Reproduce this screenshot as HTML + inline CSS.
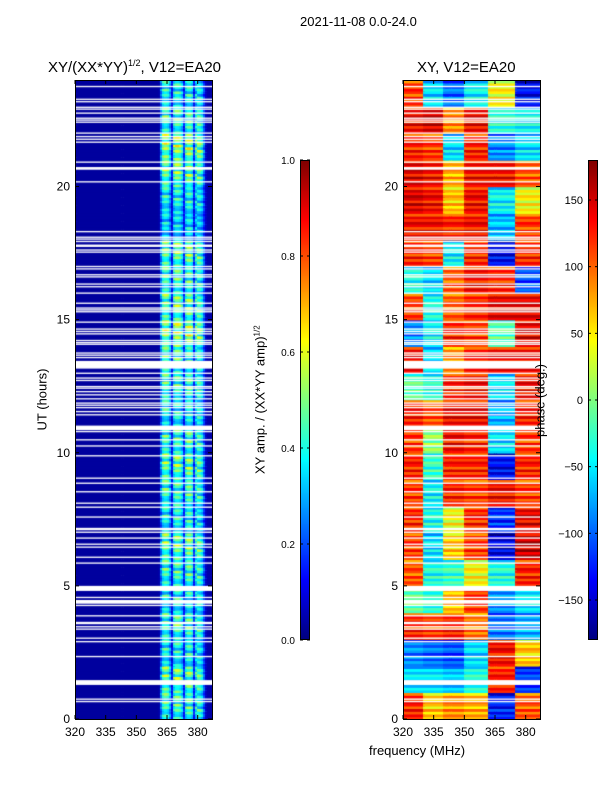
<!DOCTYPE html>
<html><head><meta charset="utf-8"><style>
body{margin:0;background:#fff;width:600px;height:800px;position:relative;overflow:hidden;font-family:"Liberation Sans",sans-serif;}
.t{position:absolute;font-size:12px;color:#000;white-space:nowrap;}
canvas{position:absolute;}
</style></head><body>
<div class="t" style="left:300px;top:14px;font-size:13px;">2021-11-08 0.0-24.0</div>
<div class="t" style="left:48px;top:58px;font-size:15px;">XY/(XX*YY)<sup style="font-size:9px">1/2</sup>, V12=EA20</div>
<div class="t" style="left:417px;top:59px;font-size:15px;">XY, V12=EA20</div>
<div class="t" style="left:8px;top:392px;font-size:13px;transform:rotate(-90deg);transform-origin:center;width:68px;text-align:center;">UT (hours)</div>
<div class="t" style="left:369px;top:743px;font-size:13px;">frequency (MHz)</div>
<div class="t" style="left:180px;top:392px;font-size:13px;transform:rotate(-90deg);width:160px;text-align:center;">XY amp. / (XX*YY amp)<sup style="font-size:8px">1/2</sup></div>
<canvas id="amp" width="137" height="639" style="left:75px;top:80px"></canvas>
<canvas id="ph" width="137" height="639" style="left:403px;top:80px"></canvas>
<canvas id="cb1" width="10" height="480" style="left:300px;top:160px"></canvas>
<canvas id="cb2" width="10" height="480" style="left:588px;top:160px"></canvas>
<svg id="ov" width="600" height="800" style="position:absolute;left:0;top:0"></svg>
<div class="t" style="left:490px;top:393px;font-size:13px;transform:rotate(-90deg);width:100px;text-align:center;">phase (deg.)</div>
<script>
const hours=[0,5,10,15,20];
const freqTicks=[320,335,350,365,380];
const ampTicks=[0.0,0.2,0.4,0.6,0.8,1.0];
const phaseTicks=[-150,-100,-50,0,50,100,150];
const chanStart=320;
const ampProfile=[0.03,0.03,0.03,0.03,0.03,0.03,0.03,0.03,0.03,0.03,0.03,0.03,0.03,0.03,0.03,0.03,0.03,0.03,0.03,0.03,0.03,0.03,0.03,0.03,0.03,0.03,0.03,0.03,0.03,0.03,0.03,0.03,0.03,0.03,0.03,0.03,0.03,0.03,0.03,0.03,0.03,0.04,0.25,0.42,0.45,0.42,0.3,0.12,0.4,0.45,0.45,0.42,0.35,0.15,0.4,0.45,0.45,0.4,0.15,0.38,0.42,0.4,0.35,0.2,0.06,0.04,0.04];
const hourGain=[1.0,1.1,0.9,1.0,0.9,1.0,1.1,0.9,1.0,1.1,1.0,0.9,1.0,1.0,1.2,1.1,1.0,1.1,0.8,0.9,1.1,1.2,1.0,0.9];
const rowPattern=[0.8,1.1,0.9,1.25,0.7,1.0,1.2,0.85,1.05,0.75];
const segEdges=[320,330,340,350,362,375,387];
const phaseGrid=[
[120,60,80,70,-130,100],[-60,-60,-70,-40,120,-120],[-90,-100,-110,-60,130,60],[120,110,120,90,-100,-80],
[-20,-40,60,110,-90,-60],[100,-40,-30,40,-40,120],[110,-60,60,110,-150,150],[120,-40,40,120,-120,140],
[110,-50,120,110,130,110],[120,-30,120,120,-140,120],[110,0,130,120,-60,110],[120,100,130,130,-80,120],
[-20,-40,120,130,-60,130],[130,-60,80,120,130,130],[-90,-50,120,110,-20,140],[110,-40,100,120,140,140],
[-40,-60,100,130,120,-110],[120,110,-50,120,-140,120],[130,130,120,130,-70,110],[140,130,60,130,-50,40],
[140,130,70,130,130,100],[120,110,-60,120,-90,-60],[130,140,80,130,-40,-50],[110,-60,-100,-50,40,-140]];
const phaseRowJitter=[0,20,-15,30,-25,10,25,-10,15,-30];
const flagStart=[23.73,23.25,23.16,22.95,22.88,22.73,22.54,22.47,22.39,21.98,21.85,21.75,21.64,20.89,20.63,20.15,18.28,18.07,18.0,17.91,17.73,17.59,17.51,16.97,16.88,16.66,16.58,16.31,16.21,15.97,15.59,15.41,15.34,15.27,14.88,14.62,14.53,14.44,14.19,14.11,14.05,13.72,13.64,13.55,13.16,12.96,12.78,12.69,12.46,12.4,12.27,12.15,12.0,11.84,11.76,11.67,11.52,11.4,10.85,10.77,10.46,10.23,9.86,9.02,8.83,8.51,8.08,7.93,7.56,7.09,6.99,6.77,6.54,6.43,6.05,5.83,4.81,4.54,4.33,4.24,3.85,3.56,3.44,3.35,3.01,2.88,2.32,1.28,0.72,0.63];
const flagEnd=[23.78,23.3,23.21,23.0,22.93,22.78,22.59,22.52,22.44,22.03,21.9,21.8,21.69,20.94,20.73,20.2,18.33,18.12,18.05,17.96,17.82,17.64,17.56,17.02,16.93,16.71,16.63,16.36,16.26,16.02,15.64,15.46,15.39,15.32,14.93,14.67,14.58,14.49,14.24,14.16,14.1,13.77,13.69,13.6,13.45,13.01,12.83,12.74,12.51,12.45,12.32,12.2,12.05,11.89,11.81,11.72,11.57,11.45,11.02,10.82,10.51,10.28,9.91,9.07,8.88,8.56,8.13,7.98,7.61,7.18,7.04,6.82,6.59,6.48,6.1,5.88,5.0,4.59,4.47,4.29,3.9,3.65,3.49,3.4,3.06,2.93,2.37,1.46,0.77,0.68];

const W=137,H=639,FMIN=320,FMAX=387,TMAX=24;
const xs=f=>(f-FMIN)/(FMAX-FMIN)*W;
const ys=t=>H-t/TMAX*H;
function jet(v){v=Math.max(0,Math.min(1,v));const c=x=>Math.round(255*Math.max(0,Math.min(1,1.5-Math.abs(x))));return `rgb(${c(4*v-3)},${c(4*v-2)},${c(4*v-1)})`;}
function seg(f){for(let i=0;i<segEdges.length-1;i++)if(f<segEdges[i+1])return i;return segEdges.length-2;}
const ca=document.getElementById('amp').getContext('2d');
const cp=document.getElementById('ph').getContext('2d');
const nRows=TMAX*rowPattern.length;
for(let r=0;r<nRows;r++){
  const t0=r/rowPattern.length,t1=(r+1)/rowPattern.length,h=Math.floor(t0),k=r%rowPattern.length;
  const y0=ys(t1),hh=ys(t0)-y0;
  for(let c=0;c<ampProfile.length;c++){
    const f=chanStart+c,x0=xs(f),ww=xs(f+1)-x0;
    const base=ampProfile[c];
    const a=base>0.1?base*hourGain[h]*rowPattern[(k+Math.floor(c/6))%rowPattern.length]:base;
    ca.fillStyle=jet(a);ca.fillRect(Math.floor(x0),y0,Math.ceil(ww)+1,hh+0.6);
    let p=phaseGrid[h][seg(f)]+phaseRowJitter[k];
    if(p>180)p-=360;if(p<-180)p+=360;
    cp.fillStyle=jet((p+180)/360);cp.fillRect(Math.floor(x0),y0,Math.ceil(ww)+1,hh+0.6);
  }
}
for(let i=0;i<flagStart.length;i++){
  const y0=ys(flagEnd[i]),hh=Math.max(1.2,ys(flagStart[i])-y0);
  ca.fillStyle='#fff';ca.fillRect(0,y0,W,hh);
  cp.fillStyle='#fff';cp.fillRect(0,y0,W,hh);
}
for(const id of ['cb1','cb2']){const g=document.getElementById(id).getContext('2d');for(let y=0;y<480;y++){g.fillStyle=jet(1-y/479);g.fillRect(0,y,10,1);}}
const NS='http://www.w3.org/2000/svg',ov=document.getElementById('ov');
function el(tag,at,txt){const e=document.createElementNS(NS,tag);for(const k in at)e.setAttribute(k,at[k]);if(txt!==undefined)e.textContent=txt;ov.appendChild(e);return e;}
for(const ox of [75,403]){
  const fr=el('rect',{x:ox+0.5,y:80.5,width:W,height:H,fill:'none',stroke:'#000','stroke-width':1});
  
  
  for(const t of hours){const y=80+ys(t);
    el('line',{x1:ox,x2:ox+4,y1:y,y2:y,stroke:'#000'});el('line',{x1:ox+W-4,x2:ox+W,y1:y,y2:y,stroke:'#000'});
    const tx=el('text',{x:ox-5,y:y+4,'font-size':12,'text-anchor':'end','font-family':'Liberation Sans'},String(t));
    
    }
  for(const f of freqTicks){const x=ox+xs(f);
    el('line',{x1:x,x2:x,y1:80+H-4,y2:80+H,stroke:'#000'});el('line',{x1:x,x2:x,y1:80,y2:84,stroke:'#000'});
    const tx=el('text',{x:x,y:736,'font-size':12,'text-anchor':'middle','font-family':'Liberation Sans'},String(f));
    
    }
}
el('rect',{x:300.5,y:160.5,width:9,height:479,fill:'none',stroke:'#000'});
el('rect',{x:588.5,y:160.5,width:9,height:479,fill:'none',stroke:'#000'});
for(const v of ampTicks){const y=640-v*480;
  el('line',{x1:300,x2:303,y1:y,y2:y,stroke:'#000'});el('line',{x1:307,x2:310,y1:y,y2:y,stroke:'#000'});
  const tx=el('text',{x:295,y:y+4,'font-size':10,'text-anchor':'end','font-family':'Liberation Sans'},v.toFixed(1));
  
  }
for(const v of phaseTicks){const y=640-(v+180)/360*480;
  el('line',{x1:588,x2:591,y1:y,y2:y,stroke:'#000'});el('line',{x1:595,x2:598,y1:y,y2:y,stroke:'#000'});
  const tx=el('text',{x:583,y:y+4,'font-size':11,'text-anchor':'end','font-family':'Liberation Sans'},v<0?'\u2212'+(-v):String(v));
  
  }
</script>
</body></html>
